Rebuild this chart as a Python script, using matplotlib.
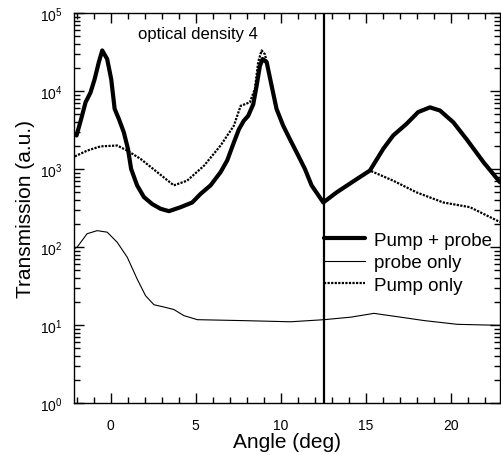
import numpy as np
import matplotlib
matplotlib.use("Agg")
import matplotlib.pyplot as plt
from matplotlib.ticker import MultipleLocator, LogLocator, NullFormatter

plt.rcParams["font.family"] = ["Liberation Sans", "DejaVu Sans"]
plt.rcParams["mathtext.fontset"] = "custom"
plt.rcParams["mathtext.rm"] = "Liberation Sans"

# Pump + probe (thick)
pp_angle = [-2.0, -1.73, -1.47, -1.18, -0.94, -0.69, -0.49, -0.2, 0.04, 0.24,
            0.49, 0.78, 1.02, 1.21, 1.56, 1.96, 2.45, 2.94, 3.43, 4.12,
            4.8, 5.29, 5.88, 6.47, 6.86, 7.25, 7.55, 7.84, 8.09, 8.39,
            8.59, 8.78, 8.94, 9.18, 9.47, 9.76, 10.15, 10.55, 11.04, 11.43,
            11.82, 12.51, 13.29, 14.47, 15.25, 16.04, 16.62, 17.41, 18.09, 18.78,
            19.37, 20.15, 20.94, 21.92, 22.9]
pp_trans = [2690, 4370, 7160, 9550, 14100, 23400, 33100, 25700, 14100, 5890,
            4370, 2950, 1820, 1000, 617, 437, 355, 309, 288, 324,
            372, 479, 617, 912, 1290, 2190, 3240, 4170, 4790, 6760,
            11700, 20900, 25700, 23400, 11700, 5890, 3590, 2400, 1480, 1000,
            617, 372, 501, 741, 955, 1820, 2690, 3800, 5370, 6170,
            5620, 3980, 2400, 1230, 676]

# probe only (thin)
pr_angle = [-2.1, -1.96, -1.38, -0.79, -0.2, 0.39, 0.98, 1.56, 2.06, 2.55,
            3.14, 3.72, 4.31, 5.1, 7.65, 10.59, 12.55, 14.12, 15.49, 17.06,
            18.43, 20.39, 22.9]
pr_trans = [96, 100, 148, 162, 155, 115, 74, 39, 23.7, 18.2,
            17, 15.8, 13.2, 11.7, 11.4, 11.0, 11.7, 12.6, 14.1, 12.6,
            11.4, 10.2, 9.9]

# Pump only (dotted)
po_angle = [-2.1, -1.38, -0.59, 0.39, 0.98, 1.76, 2.74, 3.72, 4.5, 5.49,
            6.47, 7.25, 7.65, 8.19, 8.49, 8.68, 8.88, 9.08, 9.47, 9.76,
            10.15, 10.55, 11.04, 11.43, 11.82, 12.51, 13.29, 14.47, 15.25, 16.62,
            18.0, 19.57, 21.13, 22.9]
po_trans = [1450, 1720, 1950, 2000, 1720, 1350, 912, 617, 708, 1100,
            2000, 3590, 6460, 7160, 10700, 23400, 33100, 29500, 11700, 5890,
            3590, 2400, 1480, 1000, 617, 372, 501, 741, 955, 708,
            501, 372, 324, 209]

marker_angle = 12.55

fig = plt.figure(figsize=(5.01, 4.56), dpi=100)
ax = fig.add_axes([74 / 501, 52 / 456, 426 / 501, 390 / 456])

ax.plot(pp_angle, pp_trans, color="black", lw=3.0, label="Pump + probe",
        solid_joinstyle="round", solid_capstyle="round")
ax.plot(pr_angle, pr_trans, color="black", lw=0.8, label="probe only")
ax.plot(po_angle, po_trans, color="black", lw=1.6, ls=(0, (1, 0.6)),
        label="Pump only")
ax.axvline(marker_angle, color="black", lw=1.6)

ax.set_yscale("log")
ax.set_xlim(-2.15, 22.9)
ax.set_ylim(1, 1e5)
ax.xaxis.set_major_locator(MultipleLocator(5))
ax.xaxis.set_minor_locator(MultipleLocator(1))
ax.yaxis.set_major_locator(LogLocator(base=10, numticks=10))
ax.yaxis.set_minor_locator(LogLocator(base=10, subs=np.arange(2, 10), numticks=20))
ax.yaxis.set_minor_formatter(NullFormatter())
ax.tick_params(which="both", direction="in", top=True, right=True,
               labelsize=10, width=1.0)
ax.tick_params(which="major", length=7, pad=8)
ax.tick_params(axis="x", which="major", pad=11)
ax.tick_params(which="minor", length=4)
for s in ax.spines.values():
    s.set_linewidth(1.0)

ax.set_xlabel("Angle (deg)", fontsize=15, labelpad=0)
ax.set_ylabel("Transmission (a.u.)", fontsize=15, labelpad=4)
fig.text(138 / 501, 421 / 456, "optical density 4", fontsize=12,
         va="center", ha="left")

leg = ax.legend(loc="upper left", bbox_to_anchor=(0.587, 0.44), frameon=False,
                fontsize=13.5, handlelength=2.2, handletextpad=0.45,
                borderpad=0, borderaxespad=0, labelspacing=0.3)

fig.savefig("out.png", dpi=100)
